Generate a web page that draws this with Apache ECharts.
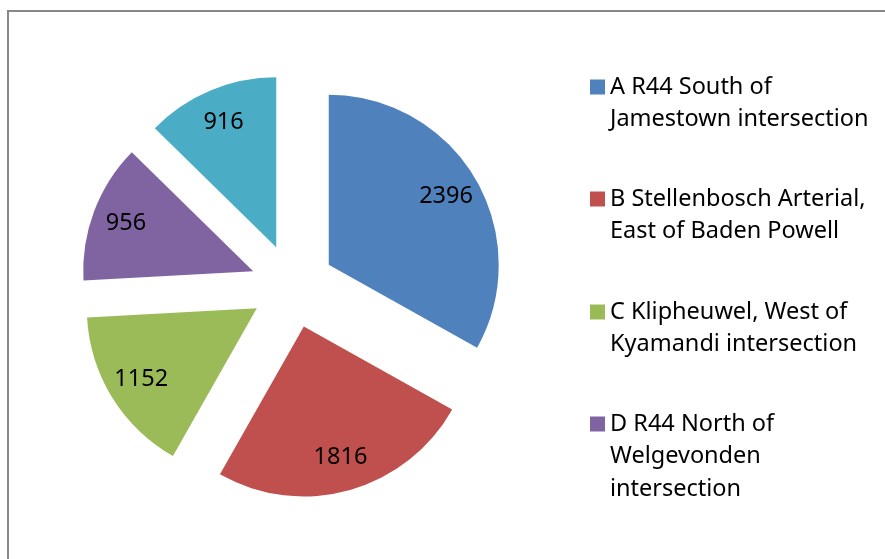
<!DOCTYPE html>
<html>
<head>
<meta charset="utf-8">
<script src="https://cdn.jsdelivr.net/npm/echarts@6/dist/echarts.min.js"></script>
<style>
  html, body { margin: 0; padding: 0; background: #fff; }
  #chart { width: 885px; height: 559px; }
</style>
</head>
<body>
<div id="chart"></div>
<script>
const categories = [
  'A R44 South of Jamestown intersection',
  'B Stellenbosch Arterial, East of Baden Powell',
  'C Klipheuwel, West of Kyamandi intersection',
  'D R44 North of Welgevonden intersection',
  'E'
];
const legendLines = [
  ['A R44 South of', 'Jamestown intersection'],
  ['B Stellenbosch Arterial,', 'East of Baden Powell'],
  ['C Klipheuwel, West of', 'Kyamandi intersection'],
  ['D R44 North of', 'Welgevonden', 'intersection']
];
const values = [2396, 1816, 1152, 956, 916];
const colors = ['#4F81BD', '#C0504D', '#9BBB59', '#8064A2', '#4BACC6'];

const FONT = 'Noto Sans';
const LINE_H = 32.5;
// vertical centre of the first text line of each legend entry
const legendFirstLine = [87, 199, 312, 424];

const chart = echarts.init(document.getElementById('chart'));

const pieData = values.map((v, i) => ({
  name: categories[i],
  value: v,
  selected: true,
  itemStyle: { color: colors[i] }
}));

// legend text is centred on the icon, so pad with empty lines above
// to keep the icon level with the first line
const legends = legendLines.map((lines, i) => {
  const blank = lines.length - 1;
  const total = lines.length + blank;
  return {
    data: [categories[i]],
    left: 590,
    top: legendFirstLine[i] - total * LINE_H / 2,
    padding: 0,
    itemWidth: 15,
    itemHeight: 15,
    itemGap: 0,
    selectedMode: false,
    icon: 'rect',
    formatter: () => '\n'.repeat(blank) + lines.join('\n'),
    textStyle: {
      fontFamily: FONT,
      fontSize: 23.5,
      color: '#000',
      lineHeight: LINE_H
    }
  };
});

chart.setOption({
  animation: false,
  backgroundColor: '#fff',
  legend: legends,
  graphic: [{
    type: 'rect',
    shape: { x: 8, y: 11, width: 1200, height: 1200 },
    style: { fill: 'none', stroke: '#878787', lineWidth: 2 },
    silent: true,
    z: -10
  }],
  series: [
    {
      type: 'pie',
      center: [292.5, 286],
      radius: [0, 170],
      startAngle: 90,
      clockwise: true,
      selectedMode: 'multiple',
      selectedOffset: 42,
      emphasis: { disabled: true },
      itemStyle: { borderWidth: 0 },
      label: { show: false },
      labelLine: { show: false },
      data: pieData
    },
    {
      type: 'pie',
      center: [292.5, 286],
      radius: [96, 170],
      startAngle: 90,
      clockwise: true,
      selectedMode: 'multiple',
      selectedOffset: 42,
      silent: true,
      emphasis: { disabled: true },
      itemStyle: { color: 'rgba(0,0,0,0)', borderWidth: 0 },
      label: {
        show: true,
        position: 'inside',
        formatter: '{c}',
        fontFamily: FONT,
        fontSize: 23.5,
        color: '#000'
      },
      labelLine: { show: false },
      data: values.map((v, i) => ({ name: categories[i], value: v, selected: true }))
    }
  ]
});

window.addEventListener('resize', () => chart.resize());
</script>
</body>
</html>
